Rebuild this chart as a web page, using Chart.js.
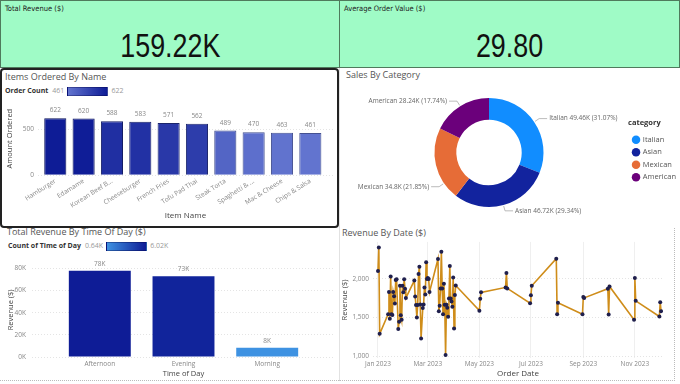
<!DOCTYPE html>
<html><head><meta charset="utf-8">
<script src="https://cdn.jsdelivr.net/npm/chart.js@4.4.1/dist/chart.umd.min.js"></script>
<style>
html,body{margin:0;padding:0;background:#fff;width:680px;height:384px;overflow:hidden;font-family:'Open Sans',sans-serif;}
.card{position:absolute;background:#9ffbc6;border:1px solid #4f7a5c;box-sizing:border-box;}
.card .t{position:absolute;left:4px;top:3px;font:7.5px 'Liberation Sans Narrow','DejaVu Sans Condensed',sans-serif;color:#222;}
.card .v{position:absolute;left:0;right:0;top:27px;line-height:34px;text-align:center;font-family:'Liberation Sans',sans-serif;font-size:34px;color:#111;}
.card .v span{display:inline-block;transform:scaleX(0.79);}
.panel{position:absolute;box-sizing:border-box;}
.ptitle{position:absolute;font-size:9px;line-height:11px;color:#555;white-space:nowrap;}
canvas{position:absolute;}
.leg{position:absolute;font-size:7px;line-height:10px;color:#999;white-space:nowrap;display:flex;align-items:center;}
.leg b{color:#333;margin-right:4px;}
.grad{display:inline-block;width:41px;height:9px;margin:0 3px;box-sizing:border-box;border:1px solid rgba(0,0,60,0.35);}
</style></head><body>

<div class="card" style="left:0;top:0;width:340px;height:68px;"><div class="t">Total Revenue ($)</div><div class="v"><span id="kpiRevenue"></span></div></div>
<div class="card" style="left:339px;top:0;width:341px;height:68px;"><div class="t">Average Order Value ($)</div><div class="v"><span id="kpiAov"></span></div></div>

<div class="panel" style="left:0;top:68px;width:339px;height:160px;border:2px solid #222;border-radius:4px;"></div>
<div class="panel" style="left:339px;top:68px;width:341px;height:160px;border-left:1px solid #e2e2e2;"></div>
<div class="panel" style="left:0;top:228px;width:339px;height:153px;border-bottom:1px dotted #bbb;"></div>
<div class="panel" style="left:339px;top:228px;width:336px;height:153px;border-bottom:1px dotted #bbb;border-right:1px dotted #bbb;border-left:1px solid #e2e2e2;"></div>

<div class="ptitle" style="left:5px;top:71px;">Items Ordered By Name</div>
<div class="leg" style="left:5px;top:86px;"><b>Order Count</b><span id="itemMin"></span><span class="grad" id="itemGrad"></span><span id="itemMax"></span></div>
<div class="ptitle" style="left:346px;top:69px;">Sales By Category</div>
<div class="ptitle" style="left:7px;top:226px;">Total Revenue By Time Of Day ($)</div>
<div class="leg" style="left:8px;top:241px;"><b>Count of Time of Day</b><span id="timeMin"></span><span class="grad" id="timeGrad"></span><span id="timeMax"></span></div>
<div class="ptitle" style="left:342px;top:227px;">Revenue By Date ($)</div>

<canvas id="cItems" width="334" height="132" style="left:2px;top:94px;"></canvas>
<canvas id="cCat" width="339" height="142" style="left:340px;top:84px;"></canvas>
<canvas id="cTime" width="336" height="128" style="left:2px;top:252px;"></canvas>
<canvas id="cDate" width="339" height="148" style="left:340px;top:234px;"></canvas>

<script>
// ---------- DATA ----------
const avgOrderValue = 29.80;

const itemNames = ['Hamburger','Edamame','Korean Beef B...','Cheeseburger','French Fries','Tofu Pad Thai','Steak Torta','Spaghetti & ...','Mac & Cheese','Chips & Salsa'];
const itemCounts = [622,620,588,583,571,562,489,470,463,461];
const itemTicks = [0,500];

const categoryNames = ['Italian','Asian','Mexican','American'];
const categorySales = [49462.70,46720.65,34796.80,28237.75];

const timeOfDay = ['Afternoon','Evening','Morning'];
const timeRevenue = [77900,72900,8420];
const timeCounts = [6020,5650,640];
const timeTicks = [0,20000,40000,60000,80000];

const orderDates = ['2023-01-01','2023-01-02','2023-01-03','2023-01-13','2023-01-14','2023-01-15','2023-01-16','2023-01-17','2023-01-18','2023-01-19','2023-01-20','2023-01-21','2023-01-22','2023-01-23','2023-01-25','2023-01-26','2023-01-27','2023-01-28','2023-01-29','2023-01-30','2023-01-31','2023-02-01','2023-02-02','2023-02-03','2023-02-13','2023-02-14','2023-02-15','2023-02-16','2023-02-17','2023-02-18','2023-02-19','2023-02-20','2023-02-21','2023-02-23','2023-02-24','2023-02-25','2023-02-26','2023-02-27','2023-02-28','2023-03-01','2023-03-02','2023-03-03','2023-03-13','2023-03-14','2023-03-15','2023-03-16','2023-03-17','2023-03-18','2023-03-19','2023-03-20','2023-03-21','2023-03-22','2023-03-23','2023-03-24','2023-03-25','2023-03-26','2023-03-27','2023-03-28','2023-03-29','2023-03-30','2023-03-31','2023-04-01','2023-04-02','2023-04-03','2023-05-01','2023-05-02','2023-05-03','2023-06-01','2023-06-02','2023-06-03','2023-06-30','2023-07-01','2023-07-02','2023-07-31','2023-08-01','2023-08-02','2023-08-31','2023-09-01','2023-09-02','2023-09-30','2023-10-01','2023-10-02','2023-10-31','2023-11-01','2023-11-02','2023-11-30','2023-12-01','2023-12-02'];
const dailyRevenue = [2102,2407,1288,1542,1831,1483,2030,1542,1534,1831,1775,1682,1987,1996,1352,1445,1911,1530,1470,1911,1826,1996,1873,1754,1979,1771,1661,1500,1661,2064,2157,1670,1229,1623,1670,1890,1797,2216,2000,2013,2000,1831,2258,1581,1653,1877,2352,1877,1542,1936,1665,1013,1665,1627,1509,1746,2169,1746,1708,1640,2017,1356,1792,1915,1589,1742,1826,1890,2076,1877,1686,1788,1911,2263,1542,1691,1542,1767,1754,1873,1538,1903,1470,2013,1716,1513,1699,1581];
const revenueTicks = [1000,1500,2000];
const dateTickDates = ['2023-01-01','2023-03-01','2023-05-01','2023-07-01','2023-09-01','2023-11-01'];
const dateTickLabels = ['Jan 2023','Mar 2023','May 2023','Jul 2023','Sep 2023','Nov 2023'];

// ---------- STYLE ----------
const FONT = "'Open Sans', sans-serif";
Chart.defaults.font.family = FONT;
Chart.defaults.color = '#777';
Chart.defaults.animation = false;
Chart.defaults.plugins.tooltip.enabled = false;
Chart.defaults.plugins.legend.display = false;

const itemLow = [98,116,207], itemHigh = [14,28,150];
const timeLow = [62,146,226], timeHigh = [14,28,150];
const catColors = ['#118DFF','#12239E','#E66C37','#6B007B'];
const catLabelAnchor = [0.5,0.5,0.23,0.5];
const gridColor = '#e4e4e4';

function lerpColor(lo, hi, t){ return 'rgb(' + lo.map((c,i)=>Math.round(c+(hi[i]-c)*t)).join(',') + ')'; }
function rgb(a){ return 'rgb(' + a.join(',') + ')'; }
function kFmt(v){ return (v/1000).toFixed(2).replace(/\.?0+$/,'') + 'K'; }
const dayNum = s => (Date.UTC(+s.slice(0,4), +s.slice(5,7)-1, +s.slice(8,10)) - Date.UTC(2023,0,1))/86400000;

// KPI
const totalRevenue = categorySales.reduce((a,b)=>a+b,0);
document.getElementById('kpiRevenue').textContent = (totalRevenue/1000).toFixed(2) + 'K';
document.getElementById('kpiAov').textContent = avgOrderValue.toFixed(2);

// legends
const iMin = Math.min(...itemCounts), iMax = Math.max(...itemCounts);
document.getElementById('itemMin').textContent = iMin;
document.getElementById('itemMax').textContent = iMax;
document.getElementById('itemGrad').style.background = 'linear-gradient(to right,' + rgb(itemLow) + ',' + rgb(itemHigh) + ')';
const tMin = Math.min(...timeCounts), tMax = Math.max(...timeCounts);
document.getElementById('timeMin').textContent = kFmt(tMin);
document.getElementById('timeMax').textContent = kFmt(tMax);
document.getElementById('timeGrad').style.background = 'linear-gradient(to right,' + rgb(timeLow) + ',' + rgb(timeHigh) + ')';

function makeBarLabels(fmt, size, offset){
  return {
    id: 'barLabels',
    afterDatasetsDraw(chart){
      const ctx = chart.ctx, meta = chart.getDatasetMeta(0), ds = chart.data.datasets[0].data;
      ctx.save();
      ctx.font = size + 'px ' + FONT; ctx.fillStyle = '#888'; ctx.textAlign = 'center'; ctx.textBaseline = 'bottom';
      meta.data.forEach((el,i)=>{ ctx.fillText(fmt(ds[i].y), el.x, el.y - offset); });
      ctx.restore();
    }
  };
}

// ---------- Items chart ----------
new Chart(document.getElementById('cItems'), {
  type: 'bar',
  data: { datasets: [{
    data: itemCounts.map((v,i)=>({x:i, y:v})),
    backgroundColor: itemCounts.map(v=>lerpColor(itemLow,itemHigh,(v-iMin)/(iMax-iMin))),
    borderColor: itemCounts.map(v=>lerpColor(itemLow.map(c=>c*0.7),itemHigh.map(c=>c*0.6),(v-iMin)/(iMax-iMin))),
    borderWidth: 1, categoryPercentage: 1, barPercentage: 0.78
  }]},
  options: {
    responsive: false,
    layout: { padding: { top: 6, right: 3, left: 0, bottom: 0 } },
    scales: {
      x: { type: 'linear', min: -0.61, max: 9.8, offset: false,
        afterBuildTicks: s => { s.ticks = itemNames.map((n,i)=>({value:i})); },
        afterFit: s => { s.height = 50.7; },
        ticks: { autoSkip: false, minRotation: 32, maxRotation: 32, padding: 2, font: { size: 6.5 }, color: '#888',
          callback: (v,i) => itemNames[i] },
        grid: { display: false, drawTicks: false }, border: { display: false },
        title: { display: true, text: 'Item Name', color: '#444', font: { size: 8 }, padding: { top: 0, bottom: 5 } } },
      y: { min: 0, max: 800,
        afterBuildTicks: s => { s.ticks = itemTicks.map(v=>({value:v})); },
        afterFit: s => { s.width = 36; },
        ticks: { padding: 4, font: { size: 6.5 }, color: '#888' },
        grid: { color: gridColor, drawTicks: false }, border: { display: false, dash: [1,2] },
        title: { display: true, text: 'Amount Ordered', color: '#444', font: { size: 7.5 }, padding: { top: 3, bottom: 0 } } }
    }
  },
  plugins: [makeBarLabels(v=>String(v), 6.5, 4.5)]
});

// ---------- Category donut ----------
const donutLabels = {
  id: 'donutLabels',
  afterDatasetsDraw(chart){
    const ctx = chart.ctx, meta = chart.getDatasetMeta(0), vals = chart.data.datasets[0].data;
    const total = vals.reduce((a,b)=>a+b,0);
    ctx.save();
    ctx.font = '6.5px ' + FONT; ctx.fillStyle = '#666'; ctx.strokeStyle = '#aaa'; ctx.lineWidth = 0.8; ctx.textBaseline = 'middle';
    meta.data.forEach((arc,i)=>{
      const p = arc.getProps(['x','y','startAngle','endAngle','outerRadius'], true);
      const a = p.startAngle + (p.endAngle - p.startAngle) * catLabelAnchor[i];
      const c = Math.cos(a), s = Math.sin(a), r = p.outerRadius;
      const x0 = p.x + c*(r+1), y0 = p.y + s*(r+1);
      const x1 = p.x + c*(r+6), y1 = p.y + s*(r+6);
      const right = c >= 0;
      const x2 = x1 + (right ? 8 : -8);
      ctx.beginPath(); ctx.moveTo(x0,y0); ctx.lineTo(x1,y1); ctx.lineTo(x2,y1); ctx.stroke();
      ctx.textAlign = right ? 'left' : 'right';
      const txt = chart.data.labels[i] + ' ' + kFmt(vals[i]) + ' (' + (vals[i]/total*100).toFixed(2) + '%)';
      ctx.fillText(txt, x2 + (right ? 2 : -2), y1);
    });
    ctx.restore();
  }
};
new Chart(document.getElementById('cCat'), {
  type: 'doughnut',
  data: { labels: categoryNames, datasets: [{ data: categorySales, backgroundColor: catColors, borderWidth: 0, hoverOffset: 0 }] },
  options: {
    responsive: false, cutout: '60%',
    layout: { padding: { top: 14, bottom: 19, left: 10, right: -7 } },
    plugins: {
      legend: { display: true, position: 'right', align: 'center',
        title: { display: true, text: 'category', color: '#333', font: { size: 7.5, weight: 'bold' }, padding: { top: 0, bottom: 3 }, position: 'start' },
        labels: { usePointStyle: true, pointStyle: 'circle', boxWidth: 6, boxHeight: 6, padding: 5, color: '#555', font: { size: 7.5 } } }
    }
  },
  plugins: [donutLabels]
});

// ---------- Time of day ----------
new Chart(document.getElementById('cTime'), {
  type: 'bar',
  data: { datasets: [{
    data: timeRevenue.map((v,i)=>({x:i, y:v})),
    backgroundColor: timeCounts.map(v=>lerpColor(timeLow,timeHigh,(v-tMin)/(tMax-tMin))),
    borderWidth: 0, categoryPercentage: 1, barPercentage: 0.74
  }]},
  options: {
    responsive: false,
    layout: { padding: { top: 10.8, right: 3, left: 0, bottom: 0 } },
    scales: {
      x: { type: 'linear', min: -0.81, max: 2.81, offset: false,
        afterBuildTicks: s => { s.ticks = timeOfDay.map((n,i)=>({value:i})); },
        afterFit: s => { s.height = 23; },
        ticks: { autoSkip: false, maxRotation: 0, padding: 3, font: { size: 6.5 }, color: '#888', callback: (v,i) => timeOfDay[i] },
        grid: { display: false, drawTicks: false }, border: { display: false },
        title: { display: true, text: 'Time of Day', color: '#444', font: { size: 7.5 }, padding: { top: 0, bottom: 2 } } },
      y: { min: 0, max: 85000,
        afterBuildTicks: s => { s.ticks = timeTicks.map(v=>({value:v})); },
        afterFit: s => { s.width = 30; },
        ticks: { padding: 6, font: { size: 6.5 }, color: '#888', callback: v => (v/1000) + 'K' },
        grid: { color: gridColor, drawTicks: false }, border: { display: false, dash: [1,2] },
        title: { display: true, text: 'Revenue ($)', color: '#444', font: { size: 7.5 }, padding: { top: 4.5, bottom: 0 } } }
    }
  },
  plugins: [makeBarLabels(v=>Math.round(v/1000)+'K', 6.5, 3.5)]
});

// ---------- Revenue by date ----------
new Chart(document.getElementById('cDate'), {
  type: 'line',
  data: { datasets: [{
    data: orderDates.map((d,i)=>({x: dayNum(d), y: dailyRevenue[i]})),
    borderColor: '#cf8d1a', borderWidth: 1.6, tension: 0,
    pointRadius: 2, pointBackgroundColor: '#1f1f4d', pointBorderWidth: 0
  }]},
  options: {
    responsive: false,
    layout: { padding: { top: 5.5, right: 16, left: 0, bottom: 0 } },
    scales: {
      x: { type: 'linear', min: -5.9, max: 337.3,
        afterBuildTicks: s => { s.ticks = dateTickDates.map(d=>({value: dayNum(d)})); },
        afterFit: s => { s.height = 24; },
        ticks: { autoSkip: false, maxRotation: 0, padding: 2, font: { size: 6.5 }, color: '#888', callback: (v,i) => dateTickLabels[i] },
        grid: { color: '#efefef', drawTicks: false }, border: { display: false },
        title: { display: true, text: 'Order Date', color: '#444', font: { size: 8 }, padding: { top: 0, bottom: 3.2 } } },
      y: { min: 975, max: 2480,
        afterBuildTicks: s => { s.ticks = revenueTicks.map(v=>({value:v})); },
        afterFit: s => { s.width = 33; },
        ticks: { padding: 4, font: { size: 6.5 }, color: '#888', callback: v => v.toLocaleString('en-US') },
        grid: { color: gridColor, drawTicks: false }, border: { display: false, dash: [1,2] },
        title: { display: true, text: 'Revenue ($)', color: '#444', font: { size: 7.5 }, padding: { top: 0, bottom: 0 } } }
    }
  }
});
</script>
</body></html>
